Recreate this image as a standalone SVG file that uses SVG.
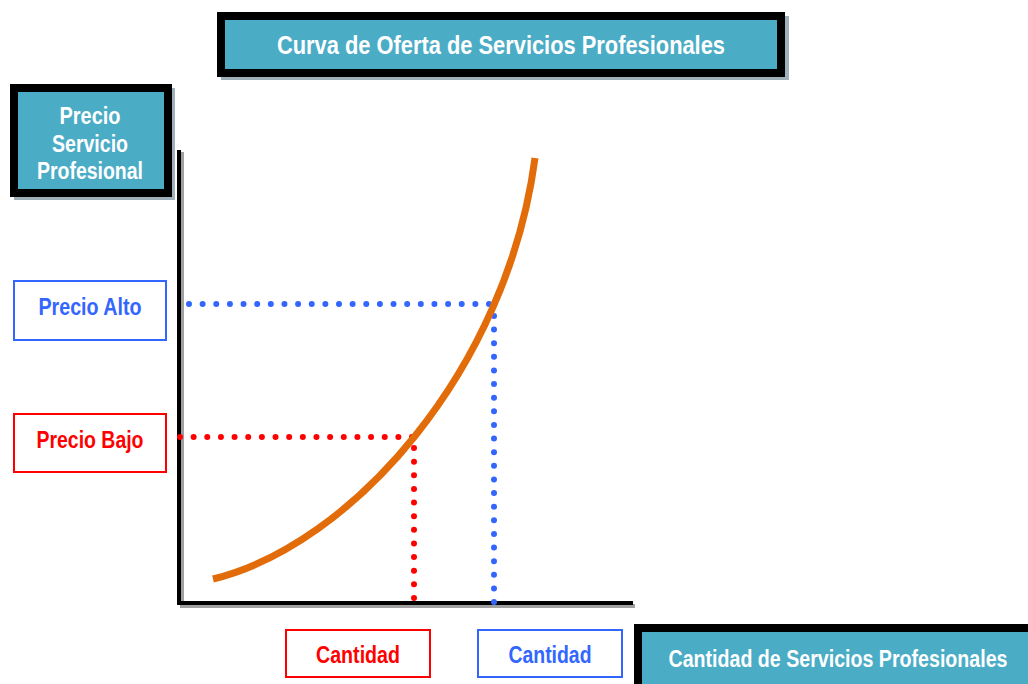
<svg xmlns="http://www.w3.org/2000/svg" width="1028" height="684" viewBox="0 0 1028 684">
<style>
.t{font-family:"Liberation Sans Narrow","Liberation Sans",Arial,sans-serif;font-weight:bold;text-anchor:middle}
.w{fill:#ffffff}
.head{fill:#4BACC6;stroke:#000;stroke-width:8}
.shadow{fill:#9FB0BA}
.bl{fill:#fff;stroke:#3366FF;stroke-width:2}
.rd{fill:#fff;stroke:#FF0000;stroke-width:2}
.dotb{stroke:#3366FF;stroke-width:6;stroke-linecap:round;fill:none}
.dotr{stroke:#FF0000;stroke-width:6;stroke-linecap:round;fill:none}
</style>
<rect width="1028" height="684" fill="#fff"/>
<g id="title">
<rect class="shadow" x="221" y="16" width="568" height="64"/>
<rect class="head" x="221" y="16" width="560" height="57"/>
<text class="t w" x="501" y="54" font-size="25" textLength="448" lengthAdjust="spacingAndGlyphs">Curva de Oferta de Servicios Profesionales</text>
</g>
<g id="ylabel">
<rect class="shadow" x="14" y="88" width="161" height="112"/>
<rect class="head" x="14" y="88" width="154" height="105"/>
<text class="t w" x="90" y="124" font-size="23" textLength="61" lengthAdjust="spacingAndGlyphs">Precio</text>
<text class="t w" x="90" y="152" font-size="23" textLength="76" lengthAdjust="spacingAndGlyphs">Servicio</text>
<text class="t w" x="90" y="179" font-size="23" textLength="106" lengthAdjust="spacingAndGlyphs">Profesional</text>
</g>
<g id="axes">
<path d="M182 152 V606 H635" fill="none" stroke="#A0A0A0" stroke-width="4"/>
<path d="M179 150 V603 H633" fill="none" stroke="#000" stroke-width="4"/>
</g>
<g id="connectors">
<line class="dotb" x1="189" y1="304" x2="489" y2="304" stroke-dasharray="0 13.636"/>
<line class="dotb" x1="494" y1="316" x2="494" y2="602" stroke-dasharray="0 13.619"/>
<line class="dotr" x1="180" y1="437" x2="412" y2="437" stroke-dasharray="0 13.647"/>
<line class="dotr" x1="414" y1="448" x2="414" y2="598" stroke-dasharray="0 13.636"/>
</g>
<g id="curve">
<path d="M213 579 C352 545 507 370 535 158" fill="none" stroke="#E36C0A" stroke-width="7"/>
</g>
<g id="precio-alto">
<rect class="bl" x="14" y="281" width="152" height="59"/>
<text class="t" x="90" y="315" font-size="23" fill="#3366FF" textLength="103" lengthAdjust="spacingAndGlyphs">Precio Alto</text>
</g>
<g id="precio-bajo">
<rect class="rd" x="14" y="414" width="152" height="58"/>
<text class="t" x="90" y="448" font-size="23" fill="#FF0000" textLength="107" lengthAdjust="spacingAndGlyphs">Precio Bajo</text>
</g>
<g id="cantidad-roja">
<rect class="rd" x="286" y="630" width="144" height="47"/>
<text class="t" x="358" y="663" font-size="23" fill="#FF0000" textLength="84" lengthAdjust="spacingAndGlyphs">Cantidad</text>
</g>
<g id="cantidad-azul">
<rect class="bl" x="478" y="630" width="144" height="47"/>
<text class="t" x="550" y="663" font-size="23" fill="#3366FF" textLength="83" lengthAdjust="spacingAndGlyphs">Cantidad</text>
</g>
<g id="xlabel">
<rect class="head" x="638" y="628" width="400" height="60"/>
<text class="t w" x="838" y="667" font-size="23" textLength="339" lengthAdjust="spacingAndGlyphs">Cantidad de Servicios Profesionales</text>
</g>
</svg>
